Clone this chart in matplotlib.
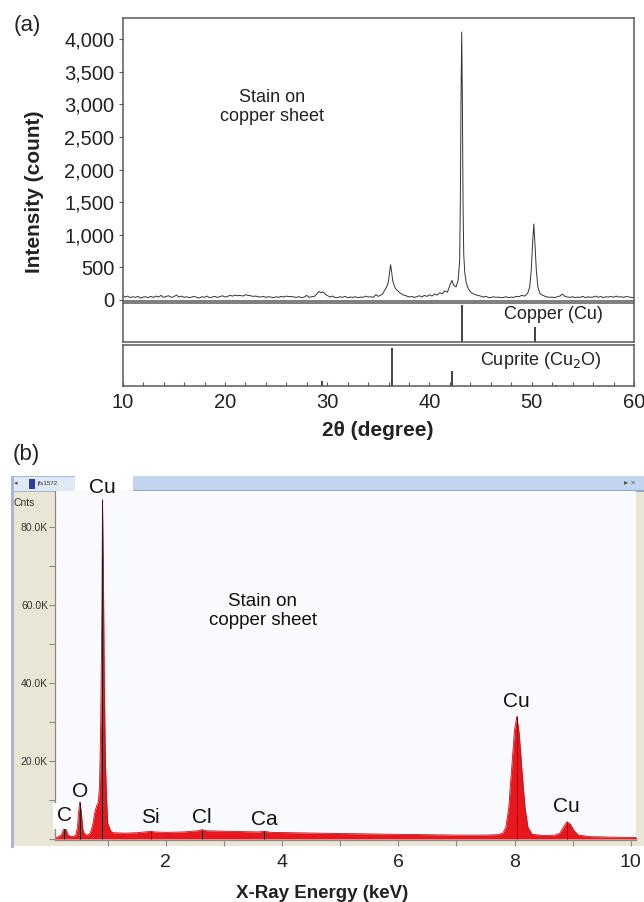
"""XRD pattern (a) and EDS spectrum (b) of a stain on a copper sheet."""

import numpy as np
import matplotlib
matplotlib.use("Agg")
import matplotlib.pyplot as plt
from matplotlib.patches import Rectangle
from matplotlib.ticker import FuncFormatter, MultipleLocator

plt.rcParams["font.family"] = ["Liberation Sans", "DejaVu Sans"]

# ---- (a) XRD pattern ------------------------------------------------------
XRD_2THETA = [
    10.0, 10.25, 10.5, 10.75, 11.0, 11.25, 11.5, 11.75, 12.0, 12.25, 12.5, 12.75,
    13.0, 13.25, 13.5, 13.75, 14.0, 14.25, 14.5, 14.75, 15.0, 15.25, 15.5, 15.75,
    16.0, 16.25, 16.5, 16.75, 17.0, 17.25, 17.5, 17.75, 18.0, 18.25, 18.5, 18.75,
    19.0, 19.25, 19.5, 19.75, 20.0, 20.25, 20.5, 20.75, 21.0, 21.25, 21.5, 21.75,
    22.0, 22.25, 22.5, 22.75, 23.0, 23.25, 23.5, 23.75, 24.0, 24.25, 24.5, 24.75,
    25.0, 25.25, 25.5, 25.75, 26.0, 26.25, 26.5, 26.75, 27.0, 27.25, 27.5, 27.75,
    28.0, 28.25, 28.5, 28.75, 29.0, 29.2, 29.4, 29.6, 29.8, 30.0, 30.25, 30.5,
    30.75, 31.0, 31.25, 31.5, 31.75, 32.0, 32.25, 32.5, 32.75, 33.0, 33.25, 33.5,
    33.75, 34.0, 34.25, 34.5, 34.75, 35.0, 35.4, 35.7, 35.9, 36.0, 36.1, 36.2,
    36.3, 36.4, 36.55, 36.7, 36.9, 37.1, 37.4, 37.8, 38.0, 38.25, 38.5, 38.75,
    39.0, 39.25, 39.5, 39.75, 40.0, 40.25, 40.5, 40.75, 41.0, 41.25, 41.5, 41.75,
    41.9, 42.05, 42.2, 42.35, 42.5, 42.6, 42.8, 42.95, 43.02, 43.08, 43.15, 43.22,
    43.28, 43.35, 43.45, 43.6, 43.8, 44.1, 44.5, 45.0, 45.25, 45.5, 45.75, 46.0,
    46.25, 46.5, 46.75, 47.0, 47.25, 47.5, 47.75, 48.0, 48.25, 48.5, 48.75, 49.0,
    49.3, 49.6, 49.8, 49.95, 50.08, 50.2, 50.32, 50.45, 50.6, 50.8, 51.1, 51.4,
    51.75, 52.0, 52.25, 52.5, 52.75, 53.0, 53.25, 53.5, 53.75, 54.0, 54.25, 54.5,
    54.75, 55.0, 55.25, 55.5, 55.75, 56.0, 56.25, 56.5, 56.75, 57.0, 57.25, 57.5,
    57.75, 58.0, 58.25, 58.5, 58.75, 59.0, 59.25, 59.5, 59.75, 60.0,
]
XRD_COUNTS = [
    70, 45, 60, 35, 50, 40, 55, 30, 45, 50, 35, 55,
    40, 60, 45, 70, 40, 55, 65, 40, 50, 75, 45, 60,
    40, 50, 35, 45, 55, 40, 30, 50, 40, 60, 35, 45,
    55, 40, 50, 65, 45, 55, 70, 60, 75, 65, 70, 60,
    80, 70, 65, 55, 60, 50, 45, 55, 40, 50, 45, 35,
    50, 40, 55, 45, 60, 50, 55, 45, 40, 50, 35, 45,
    70, 40, 50, 55, 95, 130, 110, 125, 90, 70, 45, 60,
    40, 35, 50, 40, 55, 35, 45, 40, 50, 35, 45, 40,
    60, 45, 50, 40, 80, 55, 90, 170, 230, 300, 430, 540,
    430, 300, 220, 170, 140, 110, 80, 60, 45, 55, 40, 50,
    65, 45, 70, 55, 80, 60, 90, 75, 110, 95, 140, 120,
    180, 250, 300, 230, 210, 200, 300, 600, 1500, 3000, 4110, 3000,
    1500, 700, 420, 260, 170, 110, 80, 60, 45, 55, 40, 35,
    50, 40, 45, 35, 40, 50, 35, 45, 40, 55, 50, 70,
    60, 100, 200, 450, 850, 1165, 850, 450, 200, 100, 70, 50,
    40, 45, 35, 50, 60, 90, 55, 45, 40, 50, 35, 45,
    40, 55, 35, 50, 40, 45, 60, 40, 55, 35, 50, 45,
    55, 40, 60, 45, 50, 40, 55, 45, 40, 35,
]

# reference patterns (relative intensity, %)
CU_REF_2THETA = [43.2, 50.3]
CU_REF_I = [100, 42]
CUPRITE_REF_2THETA = [29.5, 36.3, 42.2, 52.4]
CUPRITE_REF_I = [12, 100, 38, 3]

XRD_YTICKS = [0, 500, 1000, 1500, 2000, 2500, 3000, 3500, 4000]
XRD_XTICKS = [10, 20, 30, 40, 50, 60]

# ---- (b) EDS spectrum (counts in thousands) ------------------------------
EDS_KEV = [
    0.09, 0.15, 0.2, 0.25, 0.28, 0.31, 0.35, 0.4, 0.45, 0.48, 0.5, 0.52,
    0.545, 0.57, 0.6, 0.65, 0.7, 0.74, 0.78, 0.81, 0.84, 0.86, 0.88, 0.9,
    0.91, 0.925, 0.94, 0.96, 0.98, 1.0, 1.05, 1.1, 1.3, 1.5, 1.7, 1.74,
    1.8, 2.0, 2.3, 2.55, 2.62, 2.7, 3.0, 3.3, 3.6, 3.69, 3.8, 4.2,
    4.6, 5.0, 5.5, 6.0, 6.5, 7.0, 7.5, 7.7, 7.8, 7.85, 7.9, 7.95,
    8.0, 8.04, 8.08, 8.13, 8.18, 8.23, 8.3, 8.5, 8.7, 8.78, 8.84, 8.9,
    8.96, 9.02, 9.1, 9.3, 9.6, 10.0, 10.1,
]
EDS_KCNTS = [
    0.3, 0.6, 1.0, 2.8, 2.5, 1.2, 0.7, 0.6, 1.0, 3.0, 7.0, 9.5,
    7.0, 2.5, 1.2, 1.0, 1.5, 3.5, 7.0, 8.5, 9.5, 14, 30, 60,
    87, 70, 40, 20, 10, 4, 2, 1.6, 1.5, 1.6, 1.9, 2.0,
    1.8, 1.7, 1.8, 2.1, 2.4, 2.1, 2.0, 1.9, 1.8, 2.0, 1.7, 1.6,
    1.5, 1.4, 1.3, 1.2, 1.1, 1.0, 1.0, 1.1, 1.5, 3, 8, 18,
    28, 31.4, 27, 17, 8, 3, 1.2, 0.9, 1.0, 1.5, 3.0, 4.4,
    3.8, 2.2, 1.0, 0.6, 0.5, 0.4, 0.4,
]
EDS_LINES_KEV = [0.25, 0.52, 0.91, 1.74, 2.62, 3.69, 8.04, 8.9]
EDS_LABELS = ["C", "O", "Cu", "Si", "Cl", "Ca", "Cu", "Cu"]
EDS_YTICKS = [20, 40, 60, 80]
EDS_XTICKS = [2, 4, 6, 8, 10]

W, H = 644, 902


def box(l, t, r, b):
    """pixel box (left, top, right, bottom) -> figure fraction rect"""
    return [l / W, 1 - b / H, (r - l) / W, (b - t) / H]


def fig_rect(fig, l, t, r, b, **kw):
    x, y, w, h = box(l, t, r, b)
    fig.patches.append(Rectangle((x, y), w, h, transform=fig.transFigure,
                                 zorder=-5, **kw))


fig = plt.figure(figsize=(W / 100, H / 100), dpi=100)
edge = "#5a5a5a"

# ---------------------------------------------------------------- panel (a)
ax = fig.add_axes(box(122.7, 18, 634, 300.7))
ax_cu = fig.add_axes(box(122.7, 302.7, 634, 342), sharex=ax)
ax_cp = fig.add_axes(box(122.7, 345, 634, 385.7), sharex=ax)

ax.plot(XRD_2THETA, XRD_COUNTS, color="#333333", lw=0.7)
ax.set_xlim(10, 60)
ax.set_ylim(-11, 4325)
ax.set_yticks(XRD_YTICKS)
ax.yaxis.set_major_formatter(FuncFormatter(lambda v, p: f"{int(v):,}"))
ax.tick_params(axis="y", direction="out", length=3, width=0.8, color=edge,
               labelsize=14.5, pad=3, labelcolor="#222222")

ax_cu.vlines(CU_REF_2THETA, 0, CU_REF_I, color="#222222", lw=1.2)
ax_cp.vlines(CUPRITE_REF_2THETA, 0, CUPRITE_REF_I, color="#222222", lw=1.2)
for a in (ax_cu, ax_cp):
    a.set_ylim(0, 107)
    a.set_yticks([])
ax_cp.set_xticks(XRD_XTICKS)
ax_cp.xaxis.set_minor_locator(MultipleLocator(2))
ax_cp.tick_params(axis="x", which="both", direction="in", length=3, width=0.8,
                  color=edge, labelsize=14.5, pad=5, labelcolor="#222222")
for a in (ax, ax_cu):
    a.tick_params(axis="x", which="both", bottom=False, labelbottom=False)
for a in (ax, ax_cu, ax_cp):
    for s in a.spines.values():
        s.set_color(edge)
        s.set_linewidth(1.1)

ax_cu.text(0.939, 0.71, "Copper (Cu)", transform=ax_cu.transAxes,
           ha="right", va="center", fontsize=13, color="#222222")
ax_cp.text(0.937, 0.63, "Cuprite (Cu$_2$O)", transform=ax_cp.transAxes,
           ha="right", va="center", fontsize=13, color="#222222")
fig.text(272 / W, 1 - 107 / H, "Stain on\ncopper sheet", ha="center",
         va="center", fontsize=13, linespacing=1.15, color="#222222")

fig.text(34.5 / W, 1 - 192 / H, "Intensity (count)", rotation=90, ha="center",
         va="center", fontsize=15, fontweight="bold", color="#222222")
fig.text(378 / W, 1 - 430 / H, "2θ (degree)", ha="center", va="center",
         fontsize=15, fontweight="bold", color="#222222")
fig.text(27 / W, 1 - 26 / H, "(a)", ha="center", va="center", fontsize=16,
         color="#222222")

# ---------------------------------------------------------------- panel (b)
fig.text(26 / W, 1 - 455 / H, "(b)", ha="center", va="center", fontsize=16,
         color="#222222")

# software window frame around the spectrum
fig_rect(fig, 12, 476, 644, 846, facecolor="#e9e6d6", edgecolor="none")
fig_rect(fig, 12, 476, 644, 491, facecolor="#c2d4ee", edgecolor="none")
fig_rect(fig, 12, 489.5, 644, 491.5, facecolor="#8ea7cb", edgecolor="none")
fig_rect(fig, 12, 476, 75, 491, facecolor="#dfe8f5", edgecolor="#9fb3d2", lw=0.6)
fig_rect(fig, 75, 473, 133, 492, facecolor="white", edgecolor="none")
fig_rect(fig, 29, 479, 35, 489, facecolor="#2b3fa3", edgecolor="none")
fig_rect(fig, 11, 476, 13.5, 848, facecolor="#a3b9dc", edgecolor="none")
fig.text(16 / W, 1 - 483.5 / H, "◂", fontsize=5, color="#555555",
         ha="center", va="center")
fig.text(37 / W, 1 - 483.5 / H, "jfs1572", fontsize=4.5, color="#333333",
         ha="left", va="center")
fig.text(630 / W, 1 - 483.5 / H, "▸ ×", fontsize=6, color="#555555",
         ha="center", va="center")
fig.text(14 / W, 1 - 503 / H, "Cnts", fontsize=7.5, color="#333333",
         ha="left", va="center")

bx = fig.add_axes(box(55, 491, 636, 840))
bx.set_facecolor("#f9fafd")
bx.fill_between(EDS_KEV, 0, EDS_KCNTS, color="#e8161d", lw=0)
bx.plot(EDS_KEV, EDS_KCNTS, color="#c8101a", lw=0.6)
line_tops = np.interp(EDS_LINES_KEV, EDS_KEV, EDS_KCNTS)
bx.vlines(EDS_LINES_KEV, 0, line_tops, color="#3a1010", lw=0.7)
bx.set_xlim(0.093, 10.09)
bx.set_ylim(-0.26, 89.2)
bx.set_yticks(EDS_YTICKS)
bx.yaxis.set_minor_locator(MultipleLocator(10))
bx.yaxis.set_major_formatter(FuncFormatter(lambda v, p: f"{v:.1f}K"))
bx.set_xticks(EDS_XTICKS)
bx.xaxis.set_minor_locator(MultipleLocator(1))
bx.tick_params(axis="y", which="both", direction="out", length=4, width=0.8,
               color="#8a8a8a", labelsize=7.5, pad=1, labelcolor="#333333")
bx.tick_params(axis="x", which="both", direction="out", length=4, width=0.8,
               color="#8a8a8a", labelsize=14, pad=6, labelcolor="#222222")
for side in ("top", "right"):
    bx.spines[side].set_visible(False)
for side in ("left", "bottom"):
    bx.spines[side].set_color("#8a8a8a")
    bx.spines[side].set_linewidth(0.9)

# peak labels: x at line energy, y in thousand counts (layout only)
label_y = [6.0, 12.1, 90.0, 5.4, 5.4, 4.9, 35.2, 8.3]
for kev, lab, ly in zip(EDS_LINES_KEV, EDS_LABELS, label_y):
    kw = {}
    if lab == "C":
        kw["bbox"] = dict(facecolor="white", edgecolor="none", pad=2.5)
    bx.text(kev, ly, lab, ha="center", va="center", fontsize=15,
            color="#111111", clip_on=False, zorder=5, **kw)

fig.text(263 / W, 1 - 611 / H, "Stain on\ncopper sheet", ha="center",
         va="center", fontsize=13.5, linespacing=1.2, color="#111111")

fig.text(322 / W, 1 - 885 / H, "X-Ray Energy (keV)", ha="center", va="top",
         fontsize=13.5, fontweight="bold", color="#222222")

fig.savefig("out.png", dpi=100)
